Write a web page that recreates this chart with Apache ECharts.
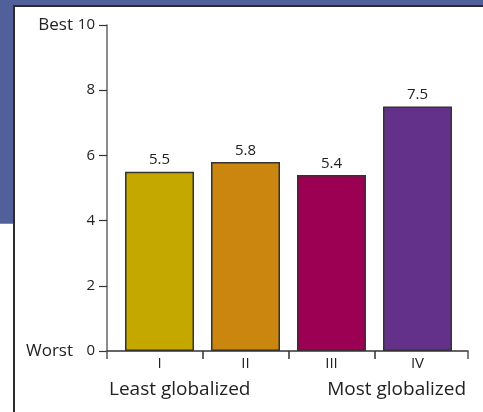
<!DOCTYPE html>
<html>
<head>
<meta charset="utf-8">
<script src="https://cdn.jsdelivr.net/npm/echarts@6/dist/echarts.min.js"></script>
<style>
  html, body { margin: 0; padding: 0; background: #fff; }
  .frame { position: relative; width: 483px; height: 412px; overflow: hidden; background: #fff; }
  .blue { position: absolute; left: 0; top: 0; width: 483px; height: 223px; background: #51609a; border-bottom: 1px solid #8a8a8a; }
  .panel { position: absolute; left: 13px; top: 5px; width: 470px; height: 407px; background: #fff;
           border-left: 2px solid #2b2b2b; border-top: 2px solid #2b2b2b; box-sizing: border-box; }
  #chart { position: absolute; left: 0; top: 0; width: 483px; height: 412px; }
</style>
</head>
<body>
<div class="frame">
  <div class="blue"></div>
  <div class="panel"></div>
  <div id="chart"></div>
</div>
<script>
// globalization groups, least -> most
var categories = ["I", "II", "III", "IV"];
var scores = [5.5, 5.8, 5.4, 7.5];
var barColors = ["#c4a800", "#cb8610", "#9c0052", "#63308a"];
var yMin = 0, yMax = 10, yStep = 2;

var myChart = echarts.init(document.getElementById("chart"));
var font = "Open Sans";

myChart.setOption({
  backgroundColor: "transparent",
  textStyle: { fontFamily: font },
  title: [
    { text: "Least globalized", left: 104, top: 375,
      textStyle: { fontSize: 19, fontWeight: "normal", color: "#222", fontFamily: font } },
    { text: "Most globalized", right: 12, top: 375,
      textStyle: { fontSize: 19, fontWeight: "normal", color: "#222", fontFamily: font } }
  ],
  grid: [
    // axis frame
    { left: 107, top: 25, width: 361, height: 326, outerBoundsMode: "none" },
    // bars (extra empty slot pushes the last boundary tick off canvas)
    { left: 116.5, top: 25, width: 430, height: 326, outerBoundsMode: "none" }
  ],
  xAxis: [
    {
      gridIndex: 0, type: "category", data: [""], boundaryGap: true,
      axisLine: { show: true, lineStyle: { color: "#333", width: 1.5 } },
      axisTick: { show: true, length: 8, lineStyle: { color: "#555", width: 1.5 } },
      axisLabel: { show: false }
    },
    {
      gridIndex: 1, type: "category", data: categories.concat([""]), boundaryGap: true,
      axisLine: { show: false },
      axisTick: {
        show: true, length: 8,
        interval: function (idx) { return idx >= 1 && idx <= 3; },
        lineStyle: { color: "#333", width: 1.5 }
      },
      axisLabel: { fontSize: 15, color: "#222", margin: 5, fontFamily: font }
    }
  ],
  yAxis: [
    {
      gridIndex: 0, type: "value", min: yMin, max: yMax, interval: yStep,
      axisLine: { show: true, lineStyle: { color: "#666", width: 1.5 } },
      axisTick: { show: true, length: 8, lineStyle: { color: "#333", width: 1.2 } },
      splitLine: { show: false },
      axisLabel: {
        margin: 12,
        formatter: function (v) {
          if (v === yMax) return "{w|Best}{n|" + v + "}";
          if (v === yMin) return "{w|Worst}{n|" + v + "}";
          return "{n|" + v + "}";
        },
        rich: {
          w: { fontSize: 17, color: "#222", fontFamily: font },
          n: { fontSize: 15, color: "#222", width: 22, align: "right", fontFamily: font }
        }
      }
    },
    {
      gridIndex: 1, type: "value", min: yMin, max: yMax, interval: yStep, show: false
    }
  ],
  series: [
    {
      type: "bar",
      xAxisIndex: 1,
      yAxisIndex: 1,
      barWidth: 69,
      data: scores.map(function (v, i) {
        return { value: v, itemStyle: { color: barColors[i] } };
      }),
      itemStyle: { borderColor: "#333", borderWidth: 1.5 },
      label: {
        show: true, position: "top", distance: 4,
        fontSize: 15, color: "#222", fontFamily: font
      },
      silent: true
    }
  ]
});
</script>
</body>
</html>
